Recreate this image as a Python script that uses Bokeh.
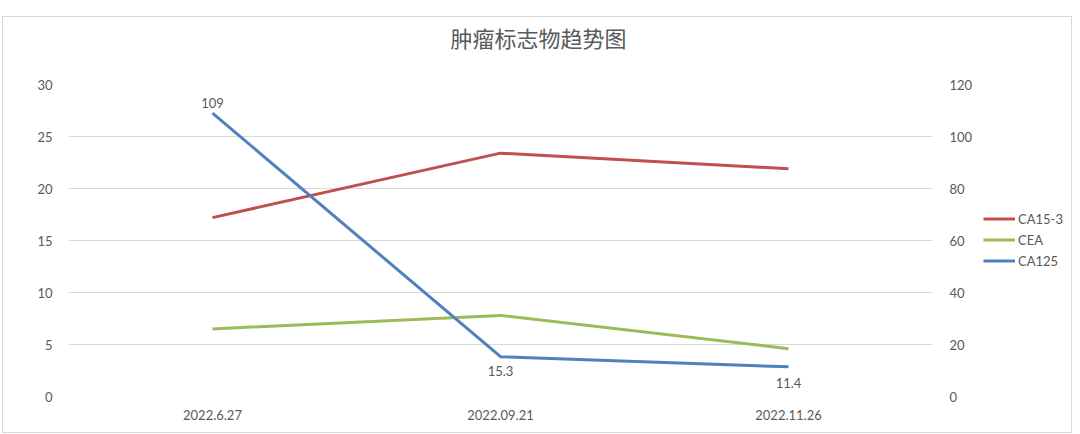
from bokeh.plotting import figure
from bokeh.layouts import row
from bokeh.models import (Range1d, FactorRange, LinearAxis, Legend, LegendItem,
                          ColumnDataSource, FixedTicker, Title)
from bokeh.core.properties import value
from bokeh.embed import file_html
from bokeh.resources import INLINE

dates = ["2022.6.27", "2022.09.21", "2022.11.26"]
ca153 = [17.2, 23.4, 21.9]
cea = [6.5, 7.8, 4.6]
ca125 = [109, 15.3, 11.4]
ca125_labels = ["109", "15.3", "11.4"]
series_names = ["CA15-3", "CEA", "CA125"]

RED = "#C0504D"
GREEN = "#9BBB59"
BLUE = "#4F81BD"
TXT = "#595959"
GRID = "#D9D9D9"
FONT = "Lato"

p = figure(width=972, height=415, x_range=FactorRange(*dates, range_padding=0),
           y_range=Range1d(0, 30), output_backend="svg", toolbar_location=None,
           min_border_left=65, min_border_right=41, min_border_top=67, min_border_bottom=36)
p.extra_y_ranges = {"right": Range1d(0, 120)}
p.outline_line_color = None
p.background_fill_color = "white"
p.border_fill_color = "white"

p.title.text = "肿瘤标志物趋势图"
p.title.align = "left"
p.title.text_font = "Noto Sans CJK SC"
p.title.text_font_size = "22px"
p.title.text_font_style = "normal"
p.title.text_color = TXT
p.title.offset = 382
p.title.standoff = 0
# spacer between the title and the frame
p.add_layout(Title(text=" ", text_font_size="1px", standoff=29), "above")

p.xgrid.grid_line_color = None
p.ygrid.grid_line_color = GRID
p.ygrid.grid_line_width = 1

for ax in [p.xaxis[0], p.yaxis[0]]:
    ax.axis_line_color = None
    ax.major_tick_line_color = None
    ax.minor_tick_line_color = None
    ax.major_label_text_color = TXT
    ax.major_label_text_font = FONT
    ax.major_label_text_font_size = "13px"
p.yaxis[0].ticker = FixedTicker(ticks=[0, 5, 10, 15, 20, 25, 30])
p.yaxis[0].major_label_standoff = 10
p.xaxis[0].major_label_standoff = 7

rax = LinearAxis(y_range_name="right", ticker=FixedTicker(ticks=[0, 20, 40, 60, 80, 100, 120]))
rax.axis_line_color = None
rax.major_tick_line_color = None
rax.minor_tick_line_color = None
rax.major_label_text_color = TXT
rax.major_label_text_font = FONT
rax.major_label_text_font_size = "13px"
rax.major_label_standoff = 11
p.add_layout(rax, "right")

src = ColumnDataSource(dict(x=dates, a=ca153, c=cea, b=ca125, lab=ca125_labels,
                            off=[-10, 14, 16]))
p.line("x", "a", source=src, line_color=RED, line_width=3)
p.line("x", "c", source=src, line_color=GREEN, line_width=3)
p.line("x", "b", source=src, line_color=BLUE, line_width=3, y_range_name="right")
p.text("x", "b", text="lab", source=src, y_range_name="right", y_offset="off",
       text_align="center", text_baseline="middle", text_color=TXT,
       text_font=value(FONT), text_font_size="13px")

# legend panel (series drawn out of view, only their legend entries show)
p2 = figure(width=96, height=415, x_range=Range1d(0, 1), y_range=Range1d(-2, -1),
            output_backend="svg", toolbar_location=None,
            x_axis_location=None, y_axis_location=None,
            min_border=0)
p2.grid.visible = False
p2.outline_line_color = None
p2.background_fill_color = "white"
p2.border_fill_color = "white"
idx = list(range(len(dates)))
items = []
for name, vals, col in zip(series_names, [ca153, cea, ca125], [RED, GREEN, BLUE]):
    r = p2.line(x=idx, y=vals, line_color=col, line_width=3)
    items.append(LegendItem(label=name, renderers=[r]))
legend = Legend(items=items, location=(8, 125), orientation="vertical", border_line_color=None,
                background_fill_alpha=0, label_text_font=FONT, label_text_font_size="13px",
                label_text_color=TXT, glyph_width=32, label_standoff=3, spacing=0,
                padding=0, margin=0, label_height=21, glyph_height=21)
p2.add_layout(legend, "center")

layout = row(p, p2, spacing=0,
             styles={"margin-left": "2px", "margin-top": "16px", "border": "1px solid #D9D9D9"})

open("out.html", "w").write(file_html(layout, INLINE))
